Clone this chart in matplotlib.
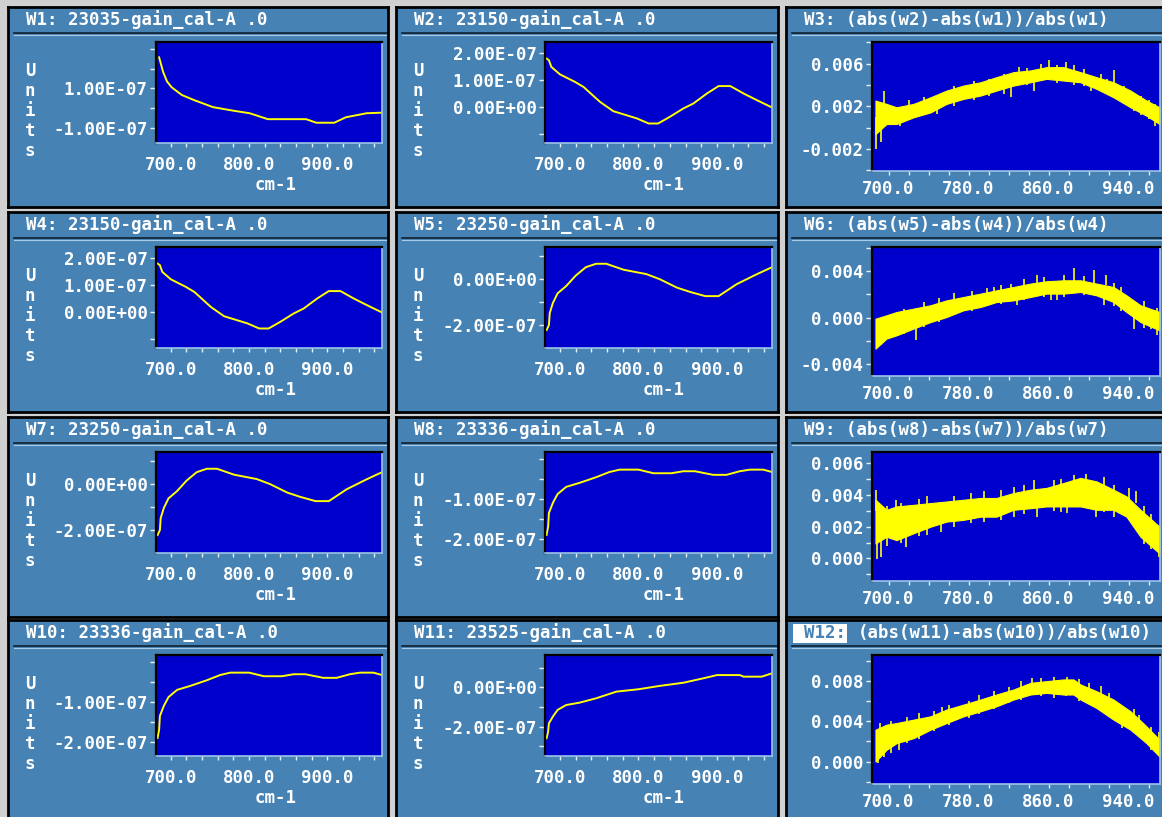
import matplotlib
matplotlib.use('Agg')
import matplotlib.pyplot as plt
from matplotlib.ticker import FixedLocator, FixedFormatter, NullFormatter
from matplotlib.patches import Rectangle

plt.rcParams['font.family'] = 'DejaVu Sans Mono'
plt.rcParams['font.weight'] = 'bold'
plt.rcParams['axes.unicode_minus'] = False

# ---- spectra (cm-1, value in units of 1e-7) ----
w1_x = [685, 690, 695, 701, 714, 729, 754, 780, 801, 824, 850, 873, 886, 909, 924, 940, 950, 969]
w1_y = [2.57, 1.84, 1.35, 1.05, 0.66, 0.41, 0.04, -0.14, -0.27, -0.57, -0.57, -0.57, -0.75, -0.75, -0.47, -0.35, -0.27, -0.24]

w2_x = [683, 686, 689, 700, 719, 730, 751, 768, 798, 813, 825, 840, 857, 870, 887, 902, 917, 934, 951, 970]
w2_y = [1.81, 1.75, 1.50, 1.22, 0.94, 0.75, 0.19, -0.16, -0.43, -0.62, -0.62, -0.37, -0.06, 0.13, 0.50, 0.78, 0.78, 0.50, 0.25, -0.02]

w5_x = [683, 686, 687, 691, 697, 708, 720, 733, 746, 759, 781, 810, 827, 849, 866, 885, 902, 925, 951, 970]
w5_y = [-2.22, -2.0, -1.48, -1.04, -0.62, -0.30, 0.15, 0.52, 0.67, 0.67, 0.41, 0.22, 0.0, -0.37, -0.56, -0.74, -0.74, -0.22, 0.22, 0.52]

w8_x = [683, 685, 686, 691, 697, 708, 725, 746, 763, 776, 800, 819, 842, 857, 872, 895, 912, 929, 942, 959, 970]
w8_y = [-1.89, -1.68, -1.34, -1.09, -0.87, -0.69, -0.59, -0.45, -0.32, -0.26, -0.26, -0.35, -0.35, -0.30, -0.30, -0.39, -0.39, -0.30, -0.26, -0.26, -0.32]

w11_x = [683, 685, 686, 691, 697, 708, 725, 746, 772, 800, 827, 857, 883, 900, 929, 934, 957, 970]
w11_y = [-2.59, -2.25, -1.83, -1.49, -1.15, -0.90, -0.78, -0.56, -0.22, -0.10, 0.07, 0.23, 0.46, 0.62, 0.62, 0.54, 0.54, 0.71]

# ---- relative differences (cm-1, value in units of 1e-3): noise band + spikes ----
w3_x = [687, 698, 708, 725, 742, 758, 775, 792, 808, 825, 842, 858, 875, 892, 908, 925, 942, 958, 971]
w3_hi = [2.54, 2.23, 1.91, 2.23, 2.85, 3.48, 3.95, 4.26, 4.74, 5.21, 5.37, 5.68, 5.68, 5.21, 4.74, 4.26, 3.48, 2.54, 1.91]
w3_lo = [-0.60, 0.34, 0.34, 0.97, 1.43, 2.23, 2.70, 3.01, 3.48, 3.95, 4.26, 4.58, 4.42, 4.26, 3.64, 2.85, 1.91, 1.12, 0.34]
w3_sx = [687, 692, 695, 711, 748, 822, 830, 845, 860, 877, 902, 925, 945,
         720, 735, 765, 785, 800, 815, 838, 852, 868, 885, 895, 912, 918, 935, 952, 960, 966]
w3_slo = [-2.02, -1.39, 1.5, 0.18, 1.28, 2.85, 4.5, 3.48, 5.0, 5.0, 3.48, 4.0, 1.60,
          1.2, 1.2, 2.0, 2.6, 3.0, 3.2, 4.0, 4.6, 4.2, 4.0, 3.9, 3.6, 3.2, 2.2, 1.2, 0.8, 0.2]
w3_shi = [1.0, 1.0, 3.48, 1.2, 2.2, 4.5, 5.68, 4.8, 6.32, 6.16, 4.8, 5.37, 3.0,
          2.6, 2.9, 3.9, 4.4, 4.6, 5.0, 5.6, 6.0, 5.9, 5.9, 5.5, 5.0, 4.6, 3.9, 3.0, 2.6, 2.2]

w6_x = [687, 698, 708, 725, 742, 758, 775, 792, 808, 825, 842, 858, 875, 892, 908, 925, 938, 952, 971]
w6_hi = [-0.09, 0.20, 0.48, 0.77, 1.06, 1.48, 1.77, 2.06, 2.34, 2.63, 2.92, 3.12, 3.20, 3.20, 2.92, 2.63, 1.91, 1.06, 0.48]
w6_lo = [-2.66, -1.80, -1.52, -0.94, -0.38, 0.05, 0.63, 0.91, 1.34, 1.48, 1.77, 2.06, 2.06, 2.20, 1.91, 1.34, 0.48, -0.38, -1.09]
w6_sx = [692, 702, 727, 805, 822, 828, 848, 868, 885, 905, 915, 917, 945, 962,
         715, 735, 750, 765, 783, 798, 812, 835, 855, 862, 875, 895, 925, 932, 955, 968]
w6_slo = [-2.37, -0.5, -1.94, 1.8, 2.0, 1.06, 2.5, 1.48, 2.8, 2.8, 1.06, 2.8, -0.94, -0.94,
          -1.4, -0.8, -0.4, 0.3, 0.6, 1.0, 1.2, 1.5, 1.8, 1.5, 1.8, 1.9, 1.0, 0.6, -0.9, -1.5]
w6_shi = [-1.0, 0.34, -0.5, 2.63, 2.92, 2.0, 3.63, 2.5, 4.26, 4.06, 2.2, 3.63, 0.5, 0.0,
          0.7, 1.3, 1.7, 2.1, 2.3, 2.5, 2.8, 3.3, 3.5, 3.0, 3.7, 3.6, 3.0, 2.6, 1.4, 0.8]

w9_x = [687, 698, 708, 725, 742, 758, 775, 792, 808, 825, 842, 858, 875, 892, 908, 925, 938, 952, 971]
w9_hi = [3.68, 3.05, 3.26, 3.36, 3.47, 3.57, 3.68, 3.79, 3.79, 4.10, 4.31, 4.42, 4.73, 5.05, 4.83, 4.31, 3.89, 3.05, 1.99]
w9_lo = [0.94, 1.36, 1.15, 1.58, 1.99, 2.31, 2.42, 2.62, 2.62, 3.05, 3.15, 3.26, 3.26, 3.26, 3.05, 3.05, 2.62, 1.36, 0.32]
w9_sx = [687, 688, 692, 707, 717, 752, 845, 848, 878, 885, 897, 907, 940, 947, 970,
         698, 712, 730, 738, 765, 782, 795, 812, 825, 835, 865, 872, 915, 925, 955, 962]
w9_slo = [3.0, -0.02, 0.08, 2.5, 0.74, 1.68, 3.8, 2.62, 2.84, 4.0, 4.0, 2.62, 3.5, 3.5, 0.08,
          0.8, 1.0, 1.4, 1.5, 2.0, 2.2, 2.3, 2.4, 2.6, 2.8, 3.0, 2.9, 2.9, 2.6, 0.9, 0.6]
w9_shi = [4.31, 1.5, 1.5, 3.68, 1.8, 2.5, 4.94, 3.5, 3.5, 5.26, 5.32, 3.5, 4.42, 4.20, 1.0,
          3.3, 3.5, 3.7, 3.9, 3.9, 4.1, 4.2, 4.3, 4.5, 4.6, 4.9, 5.0, 5.1, 4.6, 3.3, 2.8]

w12_x = [687, 698, 708, 725, 742, 758, 775, 792, 808, 825, 842, 858, 875, 885, 892, 908, 925, 942, 958, 971]
w12_hi = [3.17, 3.67, 3.83, 4.17, 4.50, 5.17, 5.67, 6.17, 6.67, 7.17, 7.83, 8.00, 8.17, 8.17, 7.67, 7.00, 6.17, 5.00, 3.50, 2.17]
w12_lo = [0.0, 1.17, 1.83, 2.33, 3.17, 3.83, 4.50, 5.00, 5.50, 6.17, 6.67, 6.83, 6.67, 6.67, 6.17, 5.33, 4.17, 3.17, 1.83, 0.50]
w12_sx = [689, 691, 695, 710, 753, 768, 843, 877, 878, 912, 933, 970,
          702, 718, 730, 745, 760, 780, 790, 805, 820, 832, 852, 865, 890, 900, 920, 945, 950, 962]
w12_slo = [-0.17, 2.0, 0.50, 1.17, 4.5, 4.17, 7.0, 6.50, 7.5, 6.5, 3.33, 1.5,
           0.9, 1.8, 2.2, 3.0, 3.6, 4.3, 4.7, 5.2, 5.8, 6.1, 6.5, 6.3, 6.0, 5.8, 4.5, 2.8, 2.6, 1.2]
w12_shi = [1.5, 3.83, 1.5, 2.2, 5.43, 5.0, 8.27, 7.2, 8.40, 7.5, 4.5, 2.93,
           4.0, 4.4, 4.8, 5.0, 5.6, 6.0, 6.6, 7.0, 7.4, 8.0, 8.3, 8.4, 8.2, 7.8, 6.8, 5.2, 4.6, 3.4]

x_ticks = [700, 720, 740, 760, 780, 800, 820, 840, 860, 880, 900, 920, 940, 960]
x_lab_left = [700, 800, 900]
x_lab_right = [700, 780, 860, 940]

panels = [
    dict(t='W1: 23035-gain_cal-A .0', c=0, r=0, x=w1_x, y=w1_y, ylim=(-1.78, 3.35),
         yt=[-1, 1], yl=['-1.00E-07', '1.00E-07'], ym=[0, 2, 3]),
    dict(t='W2: 23150-gain_cal-A .0', c=1, r=0, x=w2_x, y=w2_y, ylim=(-1.35, 2.43),
         yt=[0, 1, 2], yl=['0.00E+00', '1.00E-07', '2.00E-07'], ym=[-1]),
    dict(t='W3: (abs(w2)-abs(w1))/abs(w1)', c=2, r=0, x=w3_x, hi=w3_hi, lo=w3_lo,
         sx=w3_sx, slo=w3_slo, shi=w3_shi, ylim=(-4.07, 8.04),
         yt=[-2, 2, 6], yl=['-0.002', '0.002', '0.006'], ym=[-4, 0, 4, 8]),
    dict(t='W4: 23150-gain_cal-A .0', c=0, r=1, x=w2_x, y=w2_y, ylim=(-1.35, 2.43),
         yt=[0, 1, 2], yl=['0.00E+00', '1.00E-07', '2.00E-07'], ym=[-1]),
    dict(t='W5: 23250-gain_cal-A .0', c=1, r=1, x=w5_x, y=w5_y, ylim=(-3.0, 1.40),
         yt=[-2, 0], yl=['-2.00E-07', '0.00E+00'], ym=[-1, 1]),
    dict(t='W6: (abs(w5)-abs(w4))/abs(w4)', c=2, r=1, x=w6_x, hi=w6_hi, lo=w6_lo,
         sx=w6_sx, slo=w6_slo, shi=w6_shi, ylim=(-5.01, 6.06),
         yt=[-4, 0, 4], yl=['-0.004', '0.000', '0.004'], ym=[-2, 2, 6]),
    dict(t='W7: 23250-gain_cal-A .0', c=0, r=2, x=w5_x, y=w5_y, ylim=(-3.0, 1.40),
         yt=[-2, 0], yl=['-2.00E-07', '0.00E+00'], ym=[-1, 1]),
    dict(t='W8: 23336-gain_cal-A .0', c=1, r=2, x=w8_x, y=w8_y, ylim=(-2.34, 0.18),
         yt=[-2, -1], yl=['-2.00E-07', '-1.00E-07'], ym=[-1.5, -0.5, 0]),
    dict(t='W9: (abs(w8)-abs(w7))/abs(w7)', c=2, r=2, x=w9_x, hi=w9_hi, lo=w9_lo,
         sx=w9_sx, slo=w9_slo, shi=w9_shi, ylim=(-1.41, 6.67),
         yt=[0, 2, 4, 6], yl=['0.000', '0.002', '0.004', '0.006'], ym=[-1, 1, 3, 5]),
    dict(t='W10: 23336-gain_cal-A .0', c=0, r=3, x=w8_x, y=w8_y, ylim=(-2.34, 0.18),
         yt=[-2, -1], yl=['-2.00E-07', '-1.00E-07'], ym=[-1.5, -0.5, 0]),
    dict(t='W11: 23525-gain_cal-A .0', c=1, r=3, x=w11_x, y=w11_y, ylim=(-3.49, 1.64),
         yt=[-2, 0], yl=['-2.00E-07', '0.00E+00'], ym=[-3, -1, 1]),
    dict(t='(abs(w11)-abs(w10))/abs(w10)', sel='W12:', c=2, r=3, x=w12_x, hi=w12_hi, lo=w12_lo,
         sx=w12_sx, slo=w12_slo, shi=w12_shi, ylim=(-2.23, 10.6),
         yt=[0, 4, 8], yl=['0.000', '0.004', '0.008'], ym=[-2, 2, 6, 10]),
]

# ---- layout in screen pixels ----
W, H = 1162, 817
col_x = [8, 396, 786]
col_w = [380, 382, 382]
row_y = [7, 212, 417, 620]
ph = 200
plot_box = [(148, 35, 226, 101), (149, 35, 227, 101), (86, 35, 288, 129)]

PANEL = '#4682b4'
PLOT = '#0000cc'
YEL = '#ffff00'
FS = 12.5

fig = plt.figure(figsize=(W / 100, H / 100), dpi=100)
fig.patch.set_facecolor('#d0d0d0')


def rect(x, y, w, h):
    return [x / W, 1 - (y + h) / H, w / W, h / H]


for p in panels:
    c, r = p['c'], p['r']
    px, py, pw = col_x[c], row_y[r], col_w[c]

    # window frame
    bg = fig.add_axes(rect(px, py, pw, ph))
    bg.set_facecolor(PANEL)
    bg.set_xlim(0, pw)
    bg.set_ylim(ph, 0)
    bg.set_xticks([])
    bg.set_yticks([])
    for s in bg.spines.values():
        s.set_color('black')
        s.set_linewidth(2)
    bg.plot([6, pw], [26.3, 26.3], color='#10202c', lw=1.2)
    bg.plot([6, pw], [28, 28], color='#a8cbe8', lw=0.8)
    if p.get('sel'):
        # selected window: highlighted id
        bg.add_patch(Rectangle((7, 4), 54, 19, facecolor='white', edgecolor='none'))
        bg.text(18, 13, p['sel'], color=PANEL, fontsize=FS, va='center', ha='left')
        bg.text(72, 13, p['t'], color='white', fontsize=FS, va='center', ha='left')
    else:
        bg.text(18, 13, p['t'], color='white', fontsize=FS, va='center', ha='left')

    if c < 2:
        for i, ch in enumerate('Units'):
            bg.text(22, 64 + i * 20, ch, color='white', fontsize=FS, ha='center', va='center')
        bg.text(268, 178, 'cm-1', color='white', fontsize=FS, ha='center', va='center')

    # plot area
    l, t, w, h = plot_box[c]
    ax = fig.add_axes(rect(px + l, py + t, w, h))
    ax.set_facecolor(PLOT)
    if c < 2:
        ax.set_xlim(681, 970)
        ax.plot(p['x'], p['y'], color=YEL, lw=1.4)
        xlab = x_lab_left
        xpad = 6.5
    else:
        ax.set_xlim(683.5, 971.5)
        ax.fill_between(p['x'], p['lo'], p['hi'], color=YEL, lw=0.8, edgecolor=YEL)
        ax.vlines(p['sx'], p['slo'], p['shi'], color=YEL, lw=1.2)
        xlab = x_lab_right
        xpad = 3.5
    ax.set_ylim(*p['ylim'])

    ax.xaxis.set_major_locator(FixedLocator(xlab))
    ax.xaxis.set_major_formatter(FixedFormatter(['%.1f' % v for v in xlab]))
    ax.xaxis.set_minor_locator(FixedLocator([v for v in x_ticks if v not in xlab]))
    ax.xaxis.set_minor_formatter(NullFormatter())
    ax.yaxis.set_major_locator(FixedLocator(p['yt']))
    ax.yaxis.set_major_formatter(FixedFormatter(p['yl']))
    ax.yaxis.set_minor_locator(FixedLocator(p['ym']))
    ax.yaxis.set_minor_formatter(NullFormatter())

    ax.tick_params(axis='x', which='both', direction='out', length=3, width=1,
                   color='#e6eef6', labelcolor='white', labelsize=FS, pad=xpad)
    ax.tick_params(axis='y', which='both', direction='out', length=4.5, width=1,
                   color='#e6eef6', labelcolor='white', labelsize=FS, pad=1.5)

    ax.spines['top'].set_color('black')
    ax.spines['left'].set_color('black')
    ax.spines['top'].set_linewidth(1.6)
    ax.spines['left'].set_linewidth(1.6)
    ax.spines['bottom'].set_color('#9cc4ea')
    ax.spines['right'].set_color('#9cc4ea')
    ax.spines['bottom'].set_linewidth(1.2)
    ax.spines['right'].set_linewidth(1.2)

fig.savefig('out.png', dpi=100, facecolor=fig.get_facecolor())
